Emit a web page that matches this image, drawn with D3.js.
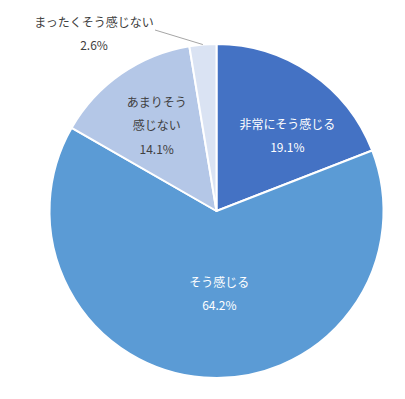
<!DOCTYPE html>
<html><head><meta charset="utf-8">
<script src="https://cdn.jsdelivr.net/npm/d3@7/dist/d3.min.js"></script>
<style>
html,body{margin:0;padding:0;background:#fff;}
svg{display:block;font-family:"Noto Sans CJK JP","Noto Sans",sans-serif;}
</style></head>
<body>
<svg id="chart" width="405" height="399"></svg>
<script>
const categories = ["非常にそう感じる", "そう感じる", "あまりそう感じない", "まったくそう感じない"];
const values = [19.1, 64.2, 14.1, 2.6];
const labelLines = [["非常にそう感じる"], ["そう感じる"], ["あまりそう", "感じない"], ["まったくそう感じない"]];
const colors = ["#4472C4", "#5B9BD5", "#B4C7E7", "#DAE3F3"];
const textColors = ["#ffffff", "#ffffff", "#404040", "#404040"];

const svg = d3.select("#chart");
const cx = 216.5, cy = 211, R = 167;
const g = svg.append("g").attr("transform", `translate(${cx},${cy})`);

const pie = d3.pie().sort(null).value(d => d);
const arcs = pie(values);
const arc = d3.arc().innerRadius(0).outerRadius(R);

g.selectAll("path").data(arcs).enter().append("path")
  .attr("d", arc)
  .attr("fill", (d, i) => colors[i])
  .attr("stroke", "#fff")
  .attr("stroke-width", 2)
  .attr("stroke-linejoin", "round");

// label layout: [angle offset (rad), radius] relative to slice mid-angle
const layout = [
  {r: 104, da: 0.15},
  {r: 82, da: -0.11},
  {r: 105, da: 0},
];
const lineH = 23.5;

arcs.forEach((a, i) => {
  const col = textColors[i];
  let x, y;
  if (i < 3) {
    const mid = (a.startAngle + a.endAngle) / 2 + layout[i].da;
    x = layout[i].r * Math.sin(mid);
    y = -layout[i].r * Math.cos(mid);
  } else {
    // outside label with leader line
    x = 94 - cx; y = 33 - cy;
    const mid = (a.startAngle + a.endAngle) / 2;
    const ex = (R) * Math.sin(mid), ey = -(R) * Math.cos(mid);
    g.append("polyline")
      .attr("points", [[ex, ey], [155 - cx, 30 - cy]].map(p => p.join(",")).join(" "))
      .attr("fill", "none").attr("stroke", "#A6A6A6").attr("stroke-width", 1);
  }
  const lines = labelLines[i].concat([values[i].toFixed(1) + "%"]);
  const n = lines.length;
  lines.forEach((t, k) => {
    g.append("text")
      .attr("x", x)
      .attr("y", y + (k - (n - 1) / 2) * lineH)
      .attr("text-anchor", "middle")
      .attr("dominant-baseline", "central")
      .attr("font-size", 12)
      .attr("fill", col)
      .text(t);
  });
});
</script>
</body></html>
